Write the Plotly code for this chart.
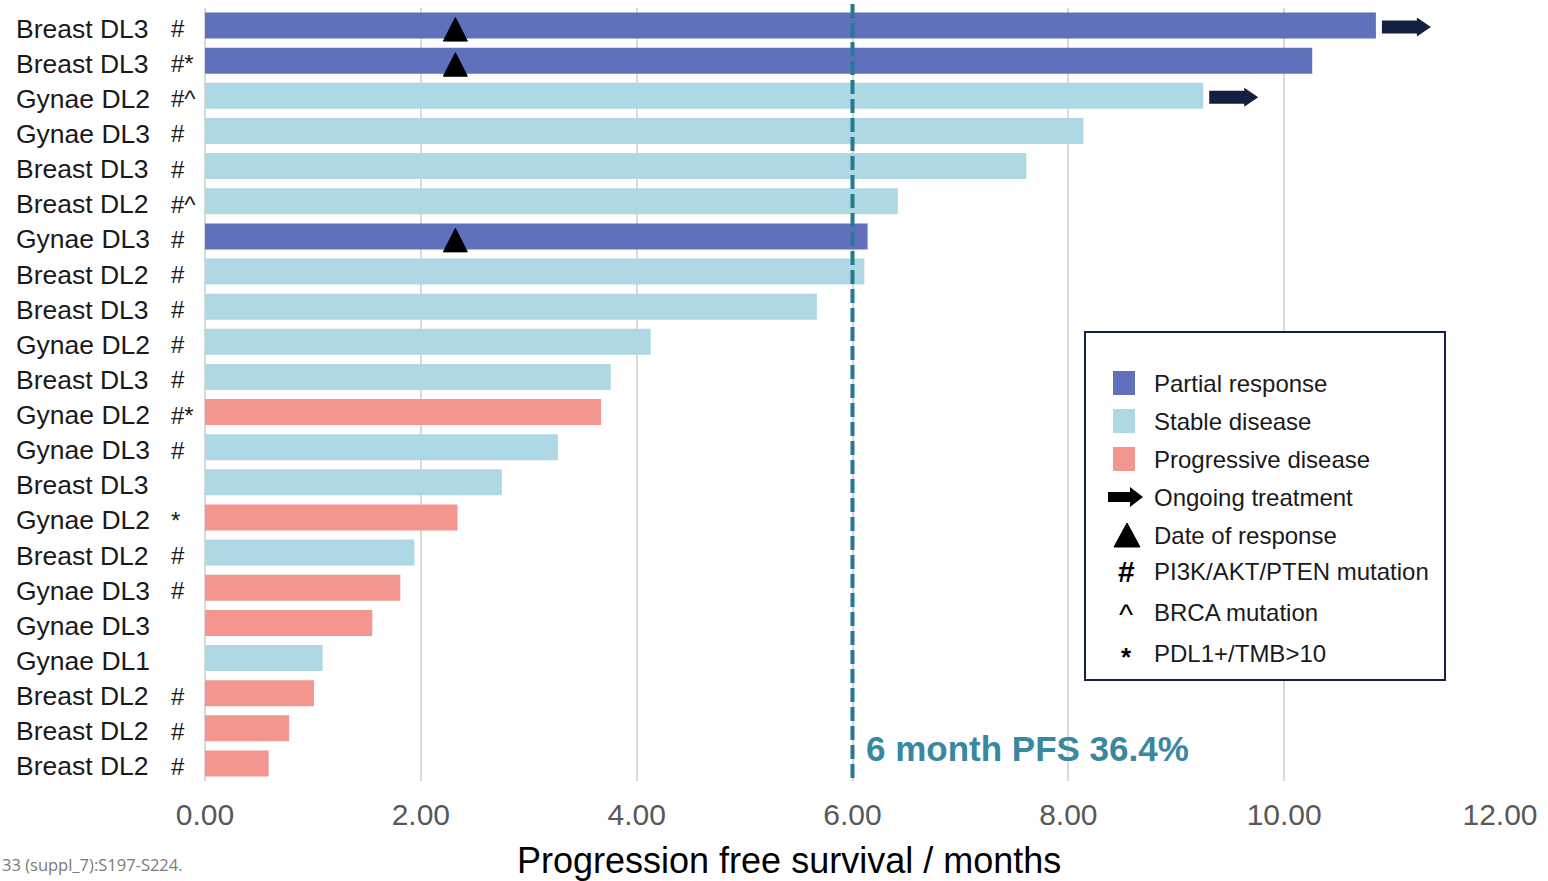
import plotly.graph_objects as go

# ---- data (top row first) ----
tumour = ["Breast DL3", "Breast DL3", "Gynae DL2", "Gynae DL3", "Breast DL3", "Breast DL2",
          "Gynae DL3", "Breast DL2", "Breast DL3", "Gynae DL2", "Breast DL3", "Gynae DL2",
          "Gynae DL3", "Breast DL3", "Gynae DL2", "Breast DL2", "Gynae DL3", "Gynae DL3",
          "Gynae DL1", "Breast DL2", "Breast DL2", "Breast DL2"]
flags = ["#", "#*", "#^", "#", "#", "#^", "#", "#", "#", "#", "#", "#*",
         "#", "", "*", "#", "#", "", "", "#", "#", "#"]
pfs_months = [10.85, 10.26, 9.25, 8.14, 7.61, 6.42, 6.14, 6.11, 5.67, 4.13, 3.76, 3.67,
              3.27, 2.75, 2.34, 1.94, 1.81, 1.55, 1.09, 1.01, 0.78, 0.59]
best_response = ["PR", "PR", "SD", "SD", "SD", "SD", "PR", "SD", "SD", "SD", "SD", "PD",
                 "SD", "SD", "PD", "SD", "PD", "PD", "SD", "PD", "PD", "PD"]
ongoing = [True, False, True] + [False] * 19
response_date = [2.32, 2.32, None, None, None, None, 2.32] + [None] * 15

pfs_cutoff = 6.0
pfs_label = "6 month PFS 36.4%"

x_ticks = [0, 2, 4, 6, 8, 10, 12]

# ---- styling ----
colours = {"PR": "#6070BC", "SD": "#ADD8E4", "PD": "#F2968F"}
names = {"PR": "Partial response", "SD": "Stable disease", "PD": "Progressive disease"}
navy = "#13203F"
teal_line = "#247A90"
teal_text = "#3A87A0"
FONT = "Liberation Sans, Arial, sans-serif"

W, H = 1548, 881
ML, MR, MT, MB = 205, 48, 8, 100
PW, PH = W - ML - MR, H - MT - MB


def px(x):
    return (x - ML) / PW


def py(y):
    return (H - MB - y) / PH


rows = list(range(len(tumour)))
fig = go.Figure()

for key in ["PR", "SD", "PD"]:
    idx = [i for i in rows if best_response[i] == key]
    fig.add_trace(go.Bar(
        x=[pfs_months[i] for i in idx],
        y=idx,
        orientation="h",
        width=0.74,
        marker=dict(color=colours[key], line=dict(width=0)),
        name=names[key],
        showlegend=False,
    ))

shapes = []
annotations = []

# ongoing-treatment arrows after the bar end
xscale = 12.0 / PW   # months per pixel
yscale = 1.0 / (PH / len(rows))  # rows per pixel
for i in rows:
    if not ongoing[i]:
        continue
    x0 = pfs_months[i] + 6 * xscale
    xs = x0 + 35 * xscale
    xt = x0 + 49 * xscale
    yc = i + 1.5 * yscale
    hs = 6.5 * yscale
    hh = 9.5 * yscale
    path = (f"M{x0},{yc - hs} L{xs},{yc - hs} L{xs},{yc - hh} L{xt},{yc} "
            f"L{xs},{yc + hh} L{xs},{yc + hs} L{x0},{yc + hs} Z")
    shapes.append(dict(type="path", xref="x", yref="y", path=path,
                       fillcolor=navy, line=dict(width=0), layer="above"))

# response-date triangles
for i in rows:
    t = response_date[i]
    if t is None:
        continue
    hw = 12 * xscale
    top = i - 8 * yscale
    bot = i + 15.5 * yscale
    path = f"M{t - hw},{bot} L{t},{top} L{t + hw},{bot} Z"
    shapes.append(dict(type="path", xref="x", yref="y", path=path,
                       fillcolor="black", line=dict(color="black", width=1), layer="above"))

# 6-month cut-off line
shapes.append(dict(type="line", xref="x", yref="paper", x0=pfs_cutoff, x1=pfs_cutoff,
                   y0=py(778), y1=py(4),
                   line=dict(color=teal_line, width=4, dash="14px,5px"), layer="above"))
annotations.append(dict(xref="paper", yref="paper", x=px(864), y=py(748),
                        xanchor="left", yanchor="middle", showarrow=False,
                        text=f"<b>{pfs_label}</b>",
                        font=dict(family=FONT, size=35, color=teal_text)))

# row labels: tumour / dose level, then mutation flags
for i in rows:
    yp = py(MT + (i + 0.5) * PH / len(rows) + 3)
    annotations.append(dict(xref="paper", yref="paper", x=px(14), y=yp,
                            xanchor="left", yanchor="middle", showarrow=False,
                            text=tumour[i], font=dict(family=FONT, size=26.5, color="#1a1a1a")))
    if flags[i]:
        annotations.append(dict(xref="paper", yref="paper", x=px(169), y=yp,
                                xanchor="left", yanchor="middle", showarrow=False,
                                text=flags[i], font=dict(family=FONT, size=24, color="#1a1a1a")))

# axis title
annotations.append(dict(xref="paper", yref="paper", x=px(789), y=py(860),
                        xanchor="center", yanchor="middle", showarrow=False,
                        text="Progression free survival / months",
                        font=dict(family=FONT, size=36, color="black")))

# source line
annotations.append(dict(xref="paper", yref="paper", x=px(0), y=py(864),
                        xanchor="left", yanchor="middle", showarrow=False,
                        text="33 (suppl_7):S197-S224.",
                        font=dict(family="Open Sans, sans-serif", size=16.5, color="#7a7a7a")))

# ---- key box ----
shapes.append(dict(type="rect", xref="paper", yref="paper",
                   x0=px(1085), x1=px(1445), y0=py(680), y1=py(332),
                   line=dict(color=navy, width=2), fillcolor="white", layer="above"))
key_rows = [
    ("sq", "PR", names["PR"], 383),
    ("sq", "SD", names["SD"], 421),
    ("sq", "PD", names["PD"], 459),
    ("arrow", None, "Ongoing treatment", 497),
    ("tri", None, "Date of response", 535),
    ("#", None, "PI3K/AKT/PTEN mutation", 571),
    ("^", None, "BRCA mutation", 612),
    ("*", None, "PDL1+/TMB>10", 653),
]
for kind, key, label, yc in key_rows:
    if kind == "sq":
        shapes.append(dict(type="rect", xref="paper", yref="paper",
                           x0=px(1113), x1=px(1135), y0=py(yc + 12), y1=py(yc - 12),
                           fillcolor=colours[key], line=dict(width=0), layer="above"))
    elif kind == "arrow":
        pts = [(1108, yc - 5), (1130, yc - 5), (1130, yc - 10), (1143, yc),
               (1130, yc + 10), (1130, yc + 5), (1108, yc + 5)]
        path = "M" + " L".join(f"{px(a)},{py(b)}" for a, b in pts) + " Z"
        shapes.append(dict(type="path", xref="paper", yref="paper", path=path,
                           fillcolor="black", line=dict(width=0), layer="above"))
    elif kind == "tri":
        pts = [(1114, yc + 12), (1127, yc - 12), (1140, yc + 12)]
        path = "M" + " L".join(f"{px(a)},{py(b)}" for a, b in pts) + " Z"
        shapes.append(dict(type="path", xref="paper", yref="paper", path=path,
                           fillcolor="black", line=dict(color="black", width=1), layer="above"))
    else:
        size = {"#": 30, "^": 30, "*": 26}[kind]
        yoff = {"#": 0, "^": 2, "*": 4}[kind]
        annotations.append(dict(xref="paper", yref="paper", x=px(1126), y=py(yc + yoff),
                                xanchor="center", yanchor="middle", showarrow=False,
                                text=f"<b>{kind}</b>" if kind != "^" else kind,
                                font=dict(family=FONT, size=size, color="black")))
    annotations.append(dict(xref="paper", yref="paper", x=px(1152), y=py(yc),
                            xanchor="left", yanchor="middle", showarrow=False,
                            text=label, font=dict(family=FONT, size=24, color="#1a1a1a")))

fig.update_layout(
    width=W, height=H,
    margin=dict(l=ML, r=MR, t=MT, b=MB),
    paper_bgcolor="white", plot_bgcolor="white",
    barmode="overlay",
    shapes=shapes, annotations=annotations,
    showlegend=False,
    font=dict(family=FONT),
)
fig.update_xaxes(
    range=[0, 12], tickvals=x_ticks, tickformat=".2f",
    showgrid=True, gridcolor="#D9D9D9", gridwidth=2,
    zeroline=True, zerolinecolor="#D9D9D9", zerolinewidth=2,
    showline=False, ticks="", ticklabelstandoff=13,
    tickfont=dict(family=FONT, size=30, color="#595959"),
)
fig.update_yaxes(
    range=[len(rows) - 0.5, -0.5], showticklabels=False, showgrid=False,
    zeroline=False, showline=False, ticks="",
)

fig.write_html("out.html")
